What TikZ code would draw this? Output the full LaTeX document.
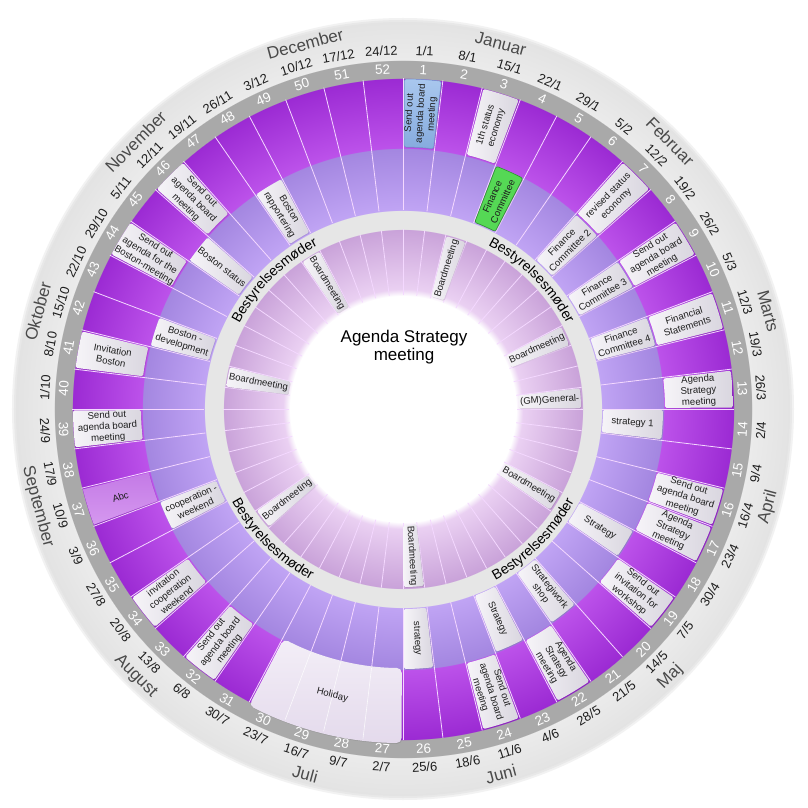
\documentclass[tikz,border=0pt]{standalone}
\usepackage{fontspec}
\setmainfont{Liberation Sans}
\usetikzlibrary{decorations.text}
\definecolor{ringlight}{HTML}{EBEBEB}
\definecolor{ringlighto}{HTML}{E3E3E3}
\definecolor{ringdark}{HTML}{A9A9A9}
\definecolor{bandgray}{HTML}{E6E6E6}
\definecolor{aout}{HTML}{9B2AD3}
\definecolor{ain}{HTML}{BC52EA}
\definecolor{bout}{HTML}{A386E0}
\definecolor{bin}{HTML}{C0A4F4}
\definecolor{iout}{HTML}{C9A2D9}
\definecolor{iin}{HTML}{EAD0F2}
\definecolor{sepcol}{HTML}{F4D8FF}
\definecolor{boxl}{HTML}{F6F4F8}
\definecolor{boxr}{HTML}{D9D6DF}
\definecolor{txt}{HTML}{1E1E1E}
\definecolor{monthcol}{HTML}{4A4A4A}
\definecolor{bluet}{HTML}{A9C7EE}
\definecolor{blueb}{HTML}{86ABDE}
\definecolor{blued}{HTML}{7097CC}
\definecolor{greenf}{HTML}{55D855}
\definecolor{greend}{HTML}{2F8F2F}
\definecolor{abct}{HTML}{C47AE6}
\definecolor{abcb}{HTML}{D598EF}
\definecolor{holl}{HTML}{F3EEF7}
\definecolor{hold}{HTML}{E4DAEC}
\pgfdeclareradialshading{wheel}{\pgfpoint{0bp}{0bp}}{%
color(0bp)=(white); color(7.30bp)=(white); color(7.75bp)=(iin);
color(11.62bp)=(iout); color(11.63bp)=(bandgray); color(12.85bp)=(bandgray);
color(12.86bp)=(bin); color(16.85bp)=(bout); color(16.86bp)=(ain);
color(21.38bp)=(aout); color(21.39bp)=(ringdark); color(22.54bp)=(ringdark);
color(22.55bp)=(ringlight); color(25bp)=(ringlighto); color(50bp)=(ringlighto)}
\newcommand{\bestfont}{\fontsize{14}{14}\selectfont}
\newcommand{\ww}{6.9230769}
\newcommand{\lbox}[6]{%
 \pgfmathsetmacro\ta{90-\ww*(#2-1)-0.25}%
 \pgfmathsetmacro\tb{90-\ww*(#2)+0.25}%
 \pgfmathsetmacro\tc{90-\ww*(#2-0.5)}%
 \pgfmathsetmacro\rc{(#3+#4)/2}%
 \pgfmathsetmacro\myrot{(#2<26.5) ? \tc : \tc+180}%
 \fill[black, opacity=.1, rounded corners=1.5pt, xshift=0.7pt, yshift=-0.8pt] (\ta:#3pt) arc[start angle=\ta, end angle=\tb, radius=#3pt] -- (\tb:#4pt) arc[start angle=\tb, end angle=\ta, radius=#4pt] -- cycle;
 \path[#5] (\ta:#3pt) arc[start angle=\ta, end angle=\tb, radius=#3pt] -- (\tb:#4pt) arc[start angle=\tb, end angle=\ta, radius=#4pt] -- cycle;
 \node[boxtext, rotate=\myrot] (#1) at (\tc:\rc pt) {#6};
}
\begin{document}
\begin{tikzpicture}[
 sepline/.style={draw=sepcol, line width=0.8pt},
 weeknum/.style={text=white, font=\fontsize{13.5}{14}\selectfont, inner sep=0pt},
 datelab/.style={text=txt, font=\fontsize{13}{14}\selectfont, inner sep=0pt},
 monthlab/.style={text=monthcol, font=\fontsize{17}{18}\selectfont, inner sep=0pt},
 boxtext/.style={text=txt, font=\fontsize{9.6}{11.3}\selectfont, align=center, inner sep=0pt},
 lightbox/.style={left color=boxl, right color=boxr, rounded corners=1.5pt},
 bluebox/.style={top color=bluet, bottom color=blueb, draw=blued, line width=0.5pt, rounded corners=1.5pt},
 greenbox/.style={fill=greenf, draw=greend, line width=0.6pt, rounded corners=2pt},
 abcbox/.style={top color=abct, bottom color=abcb},
 bestlab/.style={decorate, decoration={text along path, text={|\bestfont|Bestyrelsesmøder}, text align=center}}
]
\useasboundingbox (-403pt,-399pt) rectangle (404pt,409pt);
\fill[white] (-403pt,-399pt) rectangle (404pt,409pt);
\fill[black!5] (0,0) circle (391pt);
\fill[black!9] (0,0) circle (389pt);
\shade[shading=wheel] (0,0) circle (387pt);
% week separators
\foreach \wk in {0,...,51}{
 \pgfmathsetmacro\tth{90-\ww*\wk}
 \draw[sepline] (\tth:114pt) -- (\tth:180pt);
 \draw[sepline] (\tth:199pt) -- (\tth:331pt);
}
% week numbers and dates
\foreach \dt [count=\wk] in {{1/1},{8/1},{15/1},{22/1},{29/1},{5/2},{12/2},{19/2},{26/2},{5/3},{12/3},{19/3},{26/3},{2/4},{9/4},{16/4},{23/4},{30/4},{7/5},{14/5},{21/5},{28/5},{4/6},{11/6},{18/6},{25/6},{2/7},{9/7},{16/7},{23/7},{30/7},{6/8},{13/8},{20/8},{27/8},{3/9},{10/9},{17/9},{24/9},{1/10},{8/10},{15/10},{22/10},{29/10},{5/11},{12/11},{19/11},{26/11},{3/12},{10/12},{17/12},{24/12}}{
 \pgfmathsetmacro\wa{\ww*(\wk-0.5)}
 \pgfmathsetmacro\tth{90-\wa}
 \pgfmathsetmacro\myrot{(\wa<90 || \wa>270) ? -\wa : 180-\wa}
 \node[weeknum, rotate=\myrot] (wk\wk) at (\tth:340pt) {\wk};
 \node[datelab, rotate=\myrot] (dt\wk) at (\tth:358.5pt) {\dt};
}
% months
\foreach \mn [count=\mj] in {Januar,Februar,Marts,April,Maj,Juni,Juli,August,September,Oktober,November,December}{
 \pgfmathsetmacro\wa{15+(\mj-1)*30}
 \pgfmathsetmacro\tth{90-\wa}
 \pgfmathsetmacro\myrot{(\wa<90 || \wa>270) ? -\wa : 180-\wa}
 \node[monthlab, rotate=\myrot] (mo\mj) at (\tth:378pt) {\mn};
}
% band labels
\path[bestlab] (70:184.5pt) arc[start angle=70, end angle=20, radius=184.5pt];
\path[bestlab] (160:184.5pt) arc[start angle=160, end angle=110, radius=184.5pt];
\path[bestlab] (-70:194.5pt) arc[start angle=-70, end angle=-20, radius=194.5pt];
\path[bestlab] (-160:194.5pt) arc[start angle=-160, end angle=-110, radius=194.5pt];
% row A
\lbox{a1}{1}{262}{330}{bluebox}{Send out\\agenda board\\meeting}
\lbox{a3}{3}{262}{330}{lightbox}{1th status\\economy}
\lbox{a7}{7}{262}{330}{lightbox}{revised status\\economy}
\lbox{a9}{9}{262}{330}{lightbox}{Send out\\agenda board\\meeting}
\lbox{a11}{11}{262}{330}{lightbox}{Financial\\Statements}
\lbox{a13}{13}{262}{330}{lightbox}{Agenda\\Strategy\\meeting}
\lbox{a16}{16}{262}{330}{lightbox}{Send out\\agenda board\\meeting}
\lbox{a17}{17}{262}{330}{lightbox}{Agenda\\Strategy\\meeting}
\lbox{a19}{19}{262}{330}{lightbox}{Send out\\invitation for\\workshop}
\lbox{a22}{22}{262}{330}{lightbox}{Agenda\\Strategy\\meeting}
\lbox{a24}{24}{262}{330}{lightbox}{Send out\\agenda board\\meeting}
\lbox{a32}{32}{262}{330}{lightbox}{Send out\\agenda board\\meeting}
\lbox{a34}{34}{262}{330}{lightbox}{invitation\\cooperation\\weekend}
\lbox{a37}{37}{262}{330}{abcbox}{Abc}
\lbox{a39}{39}{262}{330}{lightbox}{Send out\\agenda board\\meeting}
\lbox{a41}{41}{262}{330}{lightbox}{Invitation\\Boston}
\lbox{a44}{44}{262}{330}{lightbox}{Send out\\agenda for the\\Boston-meeting}
\lbox{a46}{46}{262}{330}{lightbox}{Send out\\agenda board\\meeting}
% row B
\lbox{b4}{4}{200}{260}{greenbox}{Finance\\Committee}
\lbox{b7}{7}{200}{260}{lightbox}{Finance\\Committee 2}
\lbox{b9}{9}{200}{260}{lightbox}{Finance\\Committee 3}
\lbox{b11}{11}{200}{260}{lightbox}{Finance\\Committee 4}
\lbox{b14}{14}{200}{260}{lightbox}{strategy 1}
\lbox{b18}{18}{200}{260}{lightbox}{Strategy}
\lbox{b21}{21}{200}{260}{lightbox}{Strategiwork\\shop}
\lbox{b23}{23}{200}{260}{lightbox}{Strategy}
\lbox{b26}{26}{200}{260}{lightbox}{strategy}
\lbox{b36}{36}{200}{260}{lightbox}{cooperation -\\weekend}
\lbox{b42}{42}{200}{260}{lightbox}{Boston -\\development}
\lbox{b45}{45}{200}{260}{lightbox}{Boston status}
\lbox{b48}{48}{200}{260}{lightbox}{Boston\\rapportering}
% inner ring
\lbox{i3}{3}{116}{178}{lightbox}{Boardmeeting}
\lbox{i10}{10}{116}{178}{lightbox}{Boardmeeting}
\lbox{i13}{13}{116}{178}{lightbox}{(GM)General-}
\lbox{i18}{18}{116}{178}{lightbox}{Boardmeeting}
\lbox{i26}{26}{116}{178}{lightbox}{Boardmeeting}
\lbox{i34}{34}{116}{178}{lightbox}{Boardmeeting}
\lbox{i41}{41}{116}{178}{lightbox}{Boardmeeting}
\lbox{i48}{48}{116}{178}{lightbox}{Boardmeeting}
% holiday
\pgfmathsetmacro\ha{90-\ww*26-0.25}
\pgfmathsetmacro\hb{90-\ww*30+0.25}
\fill[black, opacity=.1, rounded corners=5pt, xshift=0.7pt, yshift=-0.8pt] (\ha:259pt) arc[start angle=\ha, end angle=\hb, radius=259pt] -- (\hb:334pt) arc[start angle=\hb, end angle=\ha, radius=334pt] -- cycle;
\path[top color=holl, bottom color=hold, rounded corners=5pt] (\ha:259pt) arc[start angle=\ha, end angle=\hb, radius=259pt] -- (\hb:334pt) arc[start angle=\hb, end angle=\ha, radius=334pt] -- cycle;
\foreach \wk in {27,28,29}{
 \pgfmathsetmacro\tth{90-\ww*\wk}
 \draw[white, opacity=0.8, line width=0.6pt] (\tth:261pt) -- (\tth:332pt);
}
\node[boxtext, rotate=-13.85] (holiday) at (-103.85:295pt) {Holiday};
% title
\node[font=\fontsize{17}{17.5}\selectfont, align=center, text=black, inner sep=0pt] (title) at (1pt,62pt) {Agenda Strategy\\meeting};
\end{tikzpicture}
\end{document}
